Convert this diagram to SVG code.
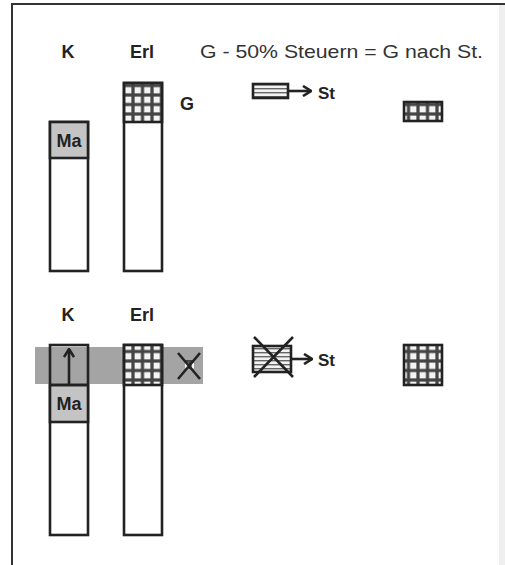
<svg xmlns="http://www.w3.org/2000/svg" width="505" height="565" viewBox="0 0 505 565">
<style>
.lbl{font-family:"Liberation Sans",Arial,sans-serif;font-weight:bold;fill:#222}
.txt{font-family:"Liberation Sans",Arial,sans-serif;fill:#333}
.bar{fill:#fff;stroke:#222;stroke-width:2.6}
.ln{stroke:#222;stroke-width:2.6;fill:none}
.grid{fill:url(#grid);stroke:#222;stroke-width:2.6}
.stripe{fill:url(#stripe);stroke:#222;stroke-width:2.6}
.ma{fill:#c4c4c4;stroke:#222;stroke-width:2.6}
</style>
<defs>
<pattern id="grid" width="9.5" height="9.5" patternUnits="userSpaceOnUse">
<rect width="9.5" height="9.5" fill="#444"/>
<rect x="1.6" y="1.6" width="6.3" height="6.3" fill="#f4f4f4"/>
</pattern>
<pattern id="stripe" width="4" height="4" patternUnits="userSpaceOnUse">
<rect width="4" height="4" fill="#f2f2f2"/>
<rect y="0" width="4" height="1.4" fill="#666"/>
</pattern>
<marker id="chev" viewBox="0 0 10 12" refX="9" refY="6" markerWidth="10" markerHeight="12" markerUnits="userSpaceOnUse" orient="auto">
<path d="M1,1 L9,6 L1,11" fill="none" stroke="#222" stroke-width="2.6"/>
</marker>
</defs>
<rect width="505" height="565" fill="#fff"/>
<rect x="499" y="5" width="6" height="560" fill="#efefef"/>
<path d="M12,565 V4 H505" fill="none" stroke="#333" stroke-width="2"/>

<g id="header">
<text class="lbl" x="68" y="58" font-size="18" text-anchor="middle">K</text>
<text class="lbl" x="142" y="58" font-size="18" text-anchor="middle">Erl</text>
<text class="txt" x="200" y="58" font-size="19" textLength="283" lengthAdjust="spacingAndGlyphs">G - 50% Steuern = G nach St.</text>
</g>

<g id="top-K">
<rect class="bar" x="50" y="122" width="38" height="149"/>
<rect class="ma" x="50" y="122" width="38" height="36"/>
<text class="lbl" x="69" y="147" font-size="18" text-anchor="middle" fill="#333">Ma</text>
</g>
<g id="top-Erl">
<rect class="bar" x="124" y="83" width="38" height="188"/>
<rect class="grid" x="124" y="83" width="38" height="39"/>
<text class="lbl" x="180" y="110" font-size="18">G</text>
</g>
<g id="top-tax">
<rect class="stripe" x="253" y="84" width="35" height="14"/>
<line class="ln" x1="288" y1="91" x2="311" y2="91" marker-end="url(#chev)"/>
<text class="lbl" x="318" y="99" font-size="17">St</text>
</g>
<g id="top-result">
<rect class="grid" x="404" y="102" width="38" height="19"/>
</g>

<g id="header2">
<text class="lbl" x="68" y="321" font-size="18" text-anchor="middle">K</text>
<text class="lbl" x="142" y="321" font-size="18" text-anchor="middle">Erl</text>
</g>

<g id="band">
<rect x="35" y="347" width="168" height="37" fill="#a4a4a4"/>
</g>

<g id="bottom-K">
<rect x="50" y="345" width="38" height="190" fill="#fff"/>
<rect x="50" y="347" width="38" height="37" fill="#a4a4a4"/>
<rect x="50" y="345" width="38" height="190" fill="none" stroke="#222" stroke-width="2.6"/>
<rect class="ma" x="50" y="385" width="38" height="37"/>
<line class="ln" x1="50" y1="385" x2="88" y2="385"/>
<line class="ln" x1="69" y1="384" x2="69" y2="349" marker-end="url(#chev)"/>
<text class="lbl" x="69" y="410" font-size="18" text-anchor="middle" fill="#333">Ma</text>
</g>
<g id="bottom-Erl">
<rect class="bar" x="124" y="345" width="38" height="190"/>
<rect class="grid" x="124" y="345" width="38" height="40"/>
</g>
<g id="cross">
<rect x="185" y="360" width="9" height="9" fill="url(#grid)"/>
<path class="ln" d="M178,353 L200,379 M200,353 L178,379" stroke-width="3.4"/>
</g>
<g id="bottom-tax">
<rect class="stripe" x="253" y="346" width="38" height="26"/>
<path class="ln" d="M254,337 L293,377 M293,337 L254,377"/>
<line class="ln" x1="291" y1="359" x2="312" y2="359" marker-end="url(#chev)"/>
<text class="lbl" x="318" y="366" font-size="17">St</text>
</g>
<g id="bottom-result">
<rect class="grid" x="404" y="345" width="38" height="40"/>
</g>
</svg>
